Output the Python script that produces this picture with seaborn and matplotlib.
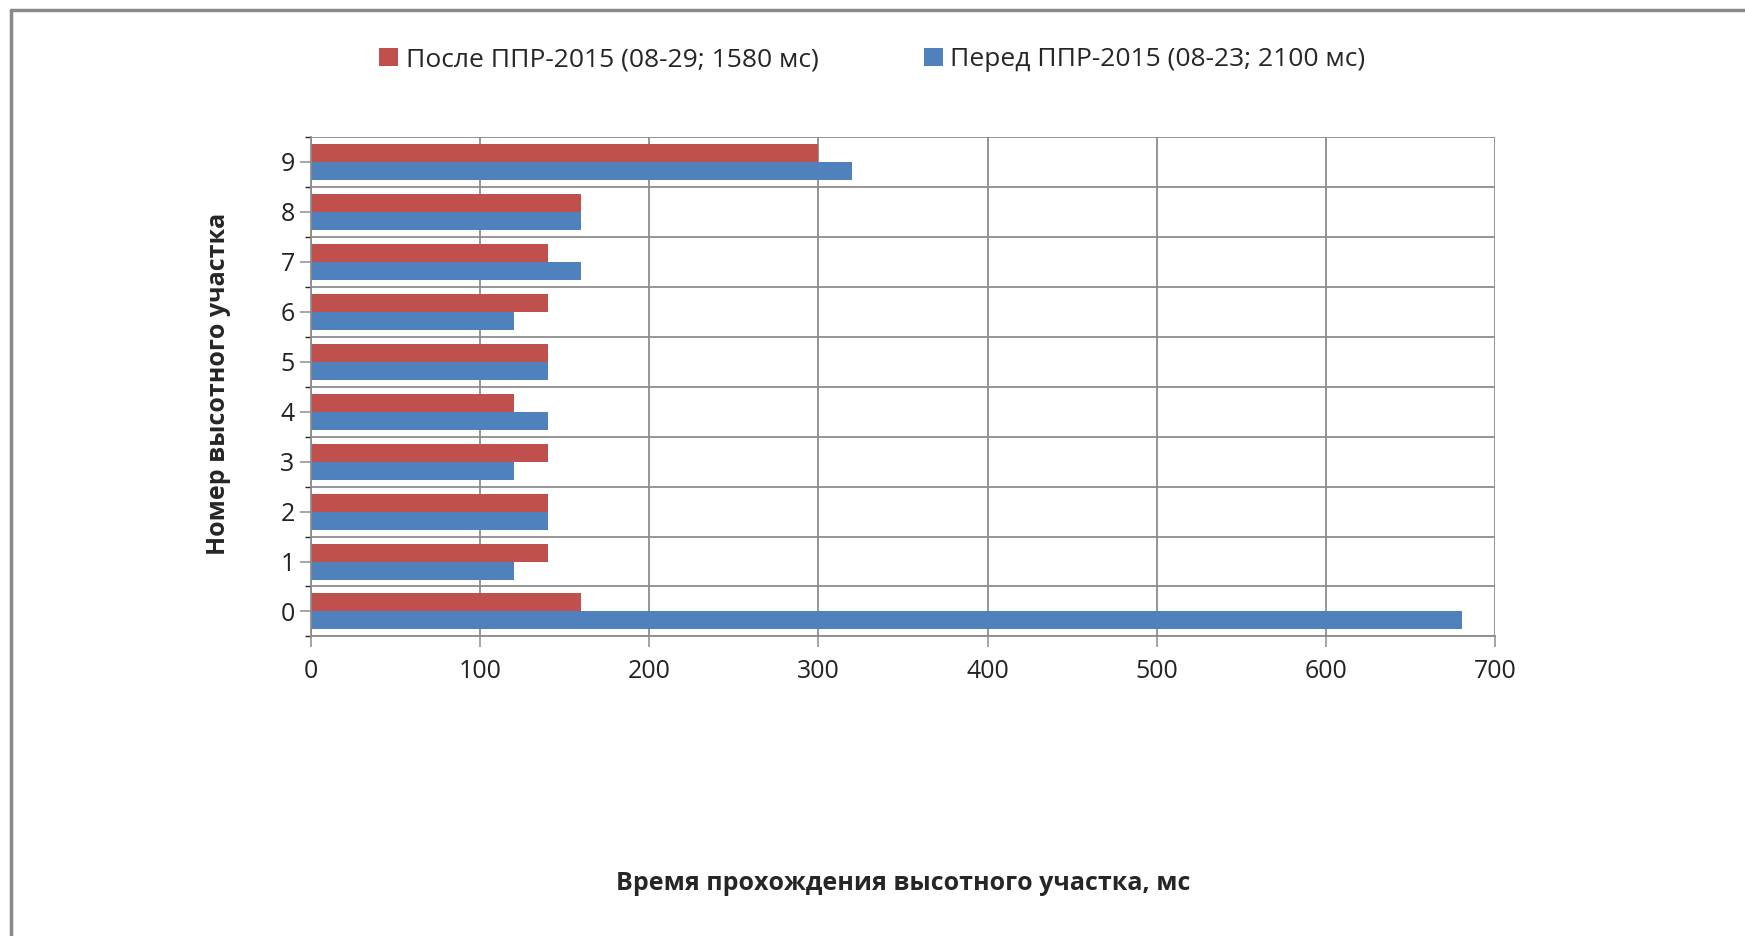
import pandas as pd
import matplotlib.pyplot as plt
import seaborn as sns
import numpy as np
from matplotlib.lines import Line2D

# data
sections = ["0", "1", "2", "3", "4", "5", "6", "7", "8", "9"]
after_ppr = [160, 140, 140, 140, 120, 140, 140, 140, 160, 300]
before_ppr = [680, 120, 140, 120, 140, 140, 120, 160, 160, 320]
series_names = ["После ППР-2015 (08-29; 1580 мс)", "Перед ППР-2015 (08-23; 2100 мс)"]
x_ticks = [0, 100, 200, 300, 400, 500, 600, 700]

df = pd.DataFrame({"section": sections * 2,
                   "time": after_ppr + before_ppr,
                   "series": [series_names[0]] * len(sections) + [series_names[1]] * len(sections)})

sns.set_theme(style="white")
plt.rcParams['font.family'] = ['Open Sans', 'DejaVu Sans']

fig = plt.figure(figsize=(17.45, 9.36), dpi=100)
ax = fig.add_axes([0.178, 0.32, 0.679, 0.534])

palette = {series_names[0]: "#C0504D", series_names[1]: "#4F81BD"}
sns.barplot(data=df, x="time", y="section", hue="series", order=sections[::-1],
            hue_order=series_names, palette=palette, width=0.72, saturation=1,
            edgecolor="none", orient="h", ax=ax)

ax.set_xlim(0, 700)
ax.set_xticks(x_ticks)
ax.set_xticklabels([str(t) for t in x_ticks], fontsize=18, color="#222222")
ax.tick_params(axis="y", labelsize=18, labelcolor="#222222", length=8, color="#9a9a9a", direction="out")
ax.tick_params(axis="x", length=8, color="#9a9a9a", direction="out", pad=8)
ax.yaxis.set_ticks_position("left")
ax.xaxis.set_ticks_position("bottom")

# gridlines: vertical at values, horizontal between sections
ax.set_yticks(np.arange(-0.5, len(sections), 1.0), minor=True)
ax.grid(axis="x", which="major", color="#8c8c8c", linewidth=1.3)
ax.grid(axis="y", which="minor", color="#8c8c8c", linewidth=1.3)
ax.set_axisbelow(True)
for side in ["top", "right"]:
    ax.spines[side].set_visible(False)
for side in ["left", "bottom"]:
    ax.spines[side].set_color("#8c8c8c")
    ax.spines[side].set_linewidth(1.3)

ax.set_xlabel("Время прохождения высотного участка, мс", fontsize=18, fontweight="bold", labelpad=135)
ax.set_ylabel("Номер высотного участка", fontsize=18, fontweight="bold")
ax.yaxis.set_label_coords(-0.067, 0.505)

ax.legend(loc="upper center", bbox_to_anchor=(0.5, 0.975), bbox_transform=fig.transFigure,
          ncol=2, frameon=False, fontsize=19, handlelength=0.7, handleheight=0.7,
          handletextpad=0.3, columnspacing=4)

# chart border (top and left visible)
fig.add_artist(Line2D([0.0063, 1.0], [0.989, 0.989], transform=fig.transFigure, color="#8a8a8a", linewidth=2.5))
fig.add_artist(Line2D([0.0063, 0.0063], [0.0, 0.989], transform=fig.transFigure, color="#8a8a8a", linewidth=2.5))

fig.savefig("out.png", dpi=100)
